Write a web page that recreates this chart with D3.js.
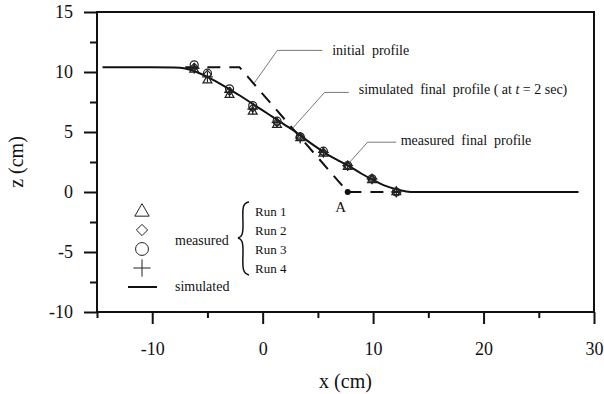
<!DOCTYPE html>
<html>
<head>
<meta charset="utf-8">
<script src="https://cdn.jsdelivr.net/npm/d3@7"></script>
<style>
  body { margin: 0; background: #fff; }
  text { font-family: "Liberation Serif", "Times New Roman", serif; fill: #111; }
</style>
</head>
<body>
<div id="chart"></div>
<script>
const width = 604;
const height = 394;

// tick values
const xTicks = [-10, 0, 10, 20, 30];
const xMinor = [-15, -5, 5, 15, 25];
const yTicks = [-10, -5, 0, 5, 10, 15];
const yMinor = [-7.5, -2.5, 2.5, 7.5, 12.5];

// simulated final profile (t = 2 sec)
const simX = [-14.5, -10, -8, -7, -6, -5, -4, -3, -2, -1, 0, 1, 2, 3, 4, 5, 6, 7, 8, 9, 10, 11, 12, 13, 13.8, 20, 28.6];
const simZ = [10.4, 10.4, 10.38, 10.3, 10.0, 9.6, 9.1, 8.55, 8.0, 7.4, 6.8, 6.2, 5.6, 5.0, 4.3, 3.65, 3.05, 2.55, 2.05, 1.5, 1.0, 0.55, 0.25, 0.05, 0, 0, 0];

// initial profile
const initX = [-7, -2.1, 7.7, 12.4];
const initZ = [10.4, 10.4, 0, 0];

// measured final profiles
const measX = [-6.2, -5.0, -3.0, -0.9, 1.3, 3.4, 5.5, 7.7, 9.9, 12.1];
const run1 = [10.2, 9.3, 8.1, 6.7, 5.6, 4.5, 3.2, 2.1, 1.0, 0.0];
const run2 = [10.4, 9.8, 8.4, 7.0, 5.8, 4.6, 3.3, 2.2, 1.1, 0.0];
const run3 = [10.6, 9.9, 8.6, 7.2, 5.9, 4.6, 3.4, 2.2, 1.1, 0.0];
const run4 = [10.3, 9.6, 8.3, 6.9, 5.8, 4.5, 3.3, 2.2, 1.1, 0.0];

const pointA = [7.7, 0];

const svg = d3.select('#chart').append('svg')
  .attr('width', width)
  .attr('height', height);

const xScale = d3.scaleLinear().domain([-15, 30]).range([97, 594]);
const yScale = d3.scaleLinear().domain([-10, 15]).range([312, 12]);

// axes: major + minor ticks
function styleAxis(g) {
  g.attr('font-family', '"Liberation Serif", serif');
  g.select('.domain').remove();
  g.selectAll('line').attr('stroke', '#111').attr('stroke-width', 2);
  g.selectAll('text').style('font-size', '18px').attr('fill', '#111');
}

const fmt = d => String(d);

svg.append('g')
  .attr('transform', `translate(0,${yScale(-10)})`)
  .call(d3.axisBottom(xScale).tickValues(xTicks).tickSize(12).tickPadding(18).tickFormat(fmt))
  .call(styleAxis);
svg.append('g')
  .attr('transform', `translate(0,${yScale(-10)})`)
  .call(d3.axisBottom(xScale).tickValues(xMinor).tickSize(6).tickFormat(''))
  .call(styleAxis);
svg.append('g')
  .attr('transform', `translate(${xScale(-15)},0)`)
  .call(d3.axisLeft(yScale).tickValues(yTicks).tickSize(13).tickPadding(11).tickFormat(fmt))
  .call(styleAxis);
svg.append('g')
  .attr('transform', `translate(${xScale(-15)},0)`)
  .call(d3.axisLeft(yScale).tickValues(yMinor).tickSize(7).tickFormat(''))
  .call(styleAxis);

// frame
svg.append('rect')
  .attr('x', xScale(-15)).attr('y', yScale(15))
  .attr('width', xScale(30) - xScale(-15))
  .attr('height', yScale(-10) - yScale(15))
  .attr('fill', 'none').attr('stroke', '#111').attr('stroke-width', 2);

// axis titles
svg.append('text')
  .attr('x', (xScale(-15) + xScale(30)) / 2).attr('y', 388)
  .attr('text-anchor', 'middle').style('font-size', '20px')
  .text('x (cm)');
svg.append('text')
  .attr('transform', `translate(23,${(yScale(15) + yScale(-10)) / 2}) rotate(-90)`)
  .attr('text-anchor', 'middle').style('font-size', '20px')
  .text('z (cm)');

const line = d3.line().x(d => xScale(d[0])).y(d => yScale(d[1]));

// initial profile (dashed)
svg.append('path')
  .datum(initX.map((x, i) => [x, initZ[i]]))
  .attr('d', line)
  .attr('fill', 'none').attr('stroke', '#111').attr('stroke-width', 2)
  .attr('stroke-dasharray', '13,9');

// simulated profile
svg.append('path')
  .datum(simX.map((x, i) => [x, simZ[i]]))
  .attr('d', line.curve(d3.curveMonotoneX))
  .attr('fill', 'none').attr('stroke', '#111').attr('stroke-width', 2);
line.curve(d3.curveLinear);

// markers
const sym = {
  triangle: d3.symbol().type(d3.symbolTriangle),
  diamond: d3.symbol().type(d3.symbolDiamond2),
  circle: d3.symbol().type(d3.symbolCircle),
  plus: d3.symbol().type(d3.symbolPlus)
};

function drawRun(vals, type, size) {
  svg.append('g').selectAll('path').data(measX.map((x, i) => [x, vals[i]]))
    .enter().append('path')
    .attr('transform', d => `translate(${xScale(d[0])},${yScale(d[1])})`)
    .attr('d', sym[type].size(size)())
    .attr('fill', 'none').attr('stroke', '#222').attr('stroke-width', 1.2);
}
drawRun(run1, 'triangle', 34);
drawRun(run2, 'diamond', 40);
drawRun(run3, 'circle', 50);
drawRun(run4, 'plus', 40);

// point A
svg.append('circle')
  .attr('cx', xScale(pointA[0])).attr('cy', yScale(pointA[1])).attr('r', 3)
  .attr('fill', '#111');
svg.append('text')
  .attr('x', xScale(pointA[0]) - 7).attr('y', yScale(pointA[1]) + 20)
  .attr('text-anchor', 'middle').style('font-size', '15px')
  .text('A');

// annotations with leader lines (data coords)
const notes = [
  { pts: [[-0.75, 9.1], [1.33, 11.8], [5.4, 11.8]], tx: 6.3, tz: 11.4, label: 'initial profile' },
  { pts: [[2.7, 5.3], [5.6, 8.3], [7.8, 8.3]], tx: 8.7, tz: 8.15, label: 'sim' },
  { pts: [[7.8, 2.4], [9.5, 4.15], [12.1, 4.15]], tx: 12.5, tz: 3.9, label: 'measured final profile' }
];

notes.forEach(n => {
  svg.append('path').datum(n.pts).attr('d', line)
    .attr('fill', 'none').attr('stroke', '#555').attr('stroke-width', 0.8);
  const t = svg.append('text')
    .attr('x', xScale(n.tx)).attr('y', yScale(n.tz))
    .style('font-size', '14px').attr('xml:space', 'preserve');
  if (n.label === 'sim') {
    t.append('tspan').text('simulated  final  profile ( at ');
    t.append('tspan').style('font-style', 'italic').text('t');
    t.append('tspan').text(' = 2 sec)');
  } else {
    t.text(n.label.replace(/ /g, '  '));
  }
});

// legend
const legend = svg.append('g');
const legendSyms = [['triangle', 212, 90], ['diamond', 230, 80], ['circle', 249, 130], ['plus', 268, 100]];
legendSyms.forEach(s => {
  legend.append('path')
    .attr('transform', `translate(142,${s[1]})`)
    .attr('d', sym[s[0]].size(s[2])())
    .attr('fill', 'none').attr('stroke', '#222').attr('stroke-width', 1);
});
legend.append('line')
  .attr('x1', 128).attr('x2', 157).attr('y1', 287).attr('y2', 287)
  .attr('stroke', '#111').attr('stroke-width', 2);
legend.append('text').attr('x', 175).attr('y', 245).style('font-size', '14px').text('measured');
legend.append('text').attr('x', 175).attr('y', 291).style('font-size', '14px').text('simulated');
// brace
legend.append('path')
  .attr('d', 'M249,202 C241,203 243,212 243,225 C243,234 242,237 238,238 C242,239 243,242 243,251 C243,264 241,273 249,275')
  .attr('fill', 'none').attr('stroke', '#111').attr('stroke-width', 1.5);
['Run 1', 'Run 2', 'Run 3', 'Run 4'].forEach((r, i) => {
  legend.append('text').attr('x', 255).attr('y', 216 + i * 19)
    .style('font-size', '13px').text(r);
});
</script>
</body>
</html>
